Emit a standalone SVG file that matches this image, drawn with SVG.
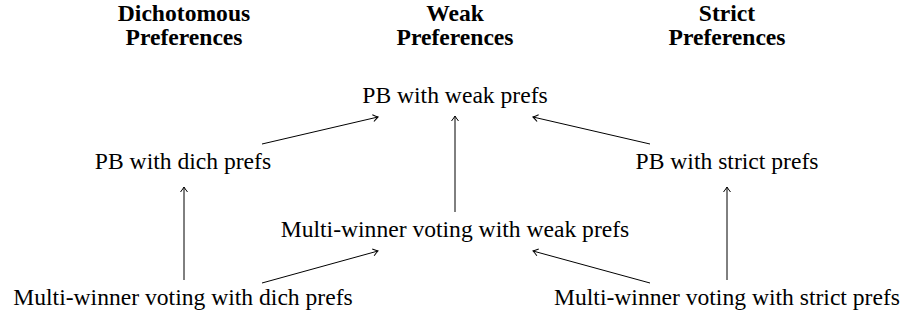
<svg xmlns="http://www.w3.org/2000/svg" width="904" height="320" viewBox="0 0 904 320">
<defs>
<style>
text{font-family:'Liberation Serif','Times New Roman',serif;font-size:23.6px;fill:#000;text-anchor:middle}
.h{font-weight:bold}
.c line{stroke:#000;stroke-width:1;fill:none}
</style>
<marker id="ah" viewBox="-6 -5 8 10" markerWidth="8" markerHeight="10" refX="0" refY="0" orient="auto" markerUnits="userSpaceOnUse">
<path d="M-5,-3.5 Q-1.5,-0.8 0,0 Q-1.5,0.8 -5,3.5" fill="none" stroke="#000" stroke-width="1"/>
</marker>
</defs>
<rect width="904" height="320" fill="#fff"/>
<g id="headers">
<text class="h" x="184" y="21">Dichotomous</text>
<text class="h" x="184" y="45">Preferences</text>
<text class="h" x="455" y="21">Weak</text>
<text class="h" x="455" y="45">Preferences</text>
<text class="h" x="727" y="21">Strict</text>
<text class="h" x="727" y="45">Preferences</text>
</g>
<g id="pb-weak"><text x="455" y="103">PB with weak prefs</text></g>
<g id="pb-dich"><text x="183" y="169">PB with dich prefs</text></g>
<g id="pb-strict"><text x="727" y="169">PB with strict prefs</text></g>
<g id="mw-weak"><text x="455" y="237">Multi-winner voting with weak prefs</text></g>
<g id="mw-dich"><text x="183" y="305">Multi-winner voting with dich prefs</text></g>
<g id="mw-strict"><text x="727" y="305">Multi-winner voting with strict prefs</text></g>
<g class="c" id="connectors">
<line x1="455" y1="212" x2="455" y2="116" marker-end="url(#ah)"/>
<line x1="184" y1="280" x2="184" y2="187" marker-end="url(#ah)"/>
<line x1="727" y1="280" x2="727" y2="187" marker-end="url(#ah)"/>
<line x1="262" y1="144" x2="378" y2="117" marker-end="url(#ah)"/>
<line x1="650" y1="144" x2="533" y2="117" marker-end="url(#ah)"/>
<line x1="262" y1="283" x2="378" y2="251" marker-end="url(#ah)"/>
<line x1="650" y1="283" x2="533" y2="251" marker-end="url(#ah)"/>
</g>
</svg>
